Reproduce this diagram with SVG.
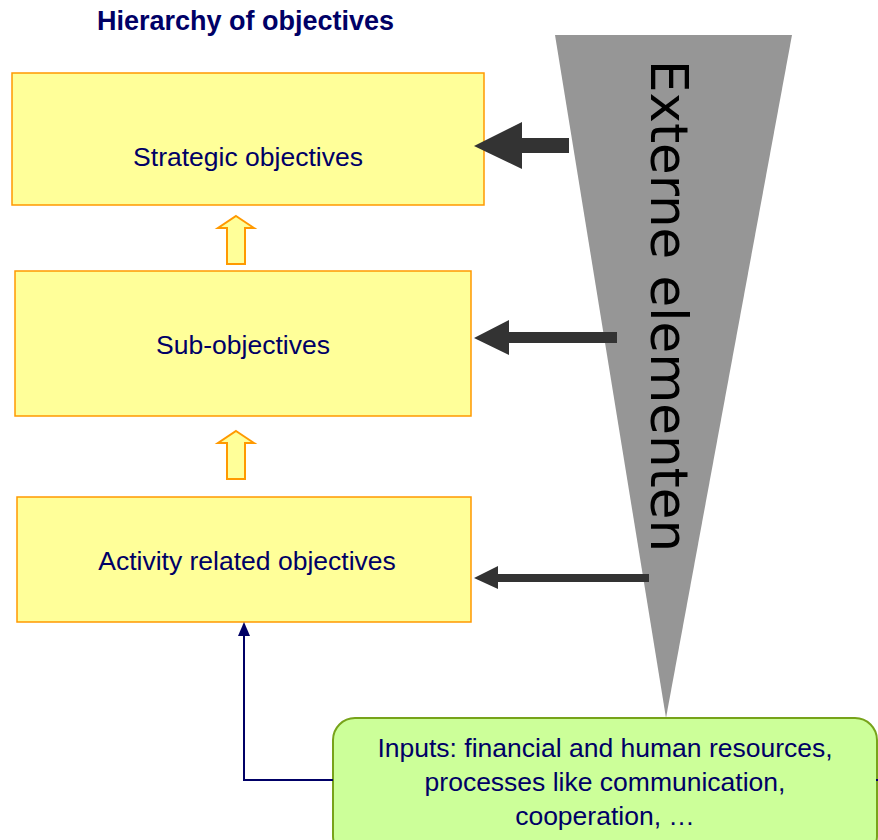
<svg xmlns="http://www.w3.org/2000/svg" width="878" height="840" viewBox="0 0 878 840">
<style>
.box{fill:#ffff99;stroke:#ff9900;stroke-width:1.5}
.up{fill:#ffff99;stroke:#ff9900;stroke-width:2;stroke-linejoin:miter}
.lbl{font-family:"Liberation Sans",Arial,sans-serif;font-size:26.5px;fill:#000066;text-anchor:middle}
.dark{fill:#333333}
</style>
<rect width="878" height="840" fill="#ffffff"/>
<text x="97" y="30" font-family="'Liberation Sans',Arial,sans-serif" font-size="27" font-weight="bold" fill="#000066">Hierarchy of objectives</text>

<g id="externe">
<polygon points="555,35 792,35 666,718" fill="#969696"/>
<text transform="translate(651,60) rotate(90)" font-family="'DejaVu Sans',sans-serif" font-size="52" fill="#000000" textLength="492" lengthAdjust="spacingAndGlyphs">Externe elementen</text>
</g>

<g id="strategic">
<rect class="box" x="12" y="73" width="472" height="132"/>
<text class="lbl" x="248" y="166">Strategic objectives</text>
</g>
<g id="sub">
<rect class="box" x="15" y="271" width="456" height="145"/>
<text class="lbl" x="243" y="354">Sub-objectives</text>
</g>
<g id="activity">
<rect class="box" x="17" y="497" width="454" height="125"/>
<text class="lbl" x="247" y="570">Activity related objectives</text>
</g>
<g id="inputs">
<rect x="333" y="718" width="544" height="140" rx="22" ry="22" fill="#ccff99" stroke="#77a31a" stroke-width="2"/>
<text class="lbl" x="605" y="757">Inputs: financial and human resources,</text>
<text class="lbl" x="605" y="791">processes like communication,</text>
<text class="lbl" x="605" y="825">cooperation, …</text>
</g>

<g id="connectors">
<polygon class="up" points="236,216 254,228 245,228 245,264 227,264 227,228 218,228"/>
<polygon class="up" points="236,431 254,443 245,443 245,479 227,479 227,443 218,443"/>
<polygon class="dark" points="474,146 522,122 522,138 569,138 569,153 522,153 522,169"/>
<polygon class="dark" points="474,338 509,320 509,332 617,332 617,343 509,343 509,355"/>
<polygon class="dark" points="474,578 498,566 498,574 649,574 649,582 498,582 498,589"/>
<path d="M333,780 H244 V634" fill="none" stroke="#000066" stroke-width="2"/>
<polygon points="244,622 250,636 238,636" fill="#000066"/>
<line x1="876" y1="780" x2="878" y2="780" stroke="#000066" stroke-width="2"/>
</g>
</svg>
